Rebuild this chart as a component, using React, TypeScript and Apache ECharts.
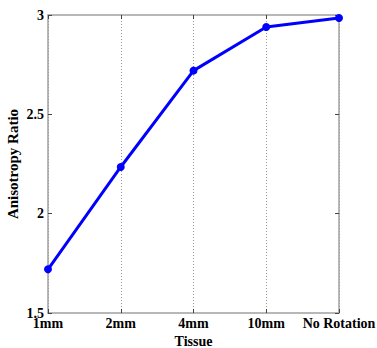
import React, { useEffect, useRef } from "react";
import * as echarts from "echarts";

const categories = ["1mm", "2mm", "4mm", "10mm", "No Rotation"];
const ratioValues = [1.72, 2.235, 2.72, 2.94, 2.985];
const yTicks = [1.5, 2, 2.5, 3];

const FONT = "Liberation Serif";
const AXIS_COLOR = "#a0a0a0";

export default function App() {
  const ref = useRef<HTMLDivElement>(null);
  useEffect(() => {
    if (!ref.current) return;
    const chart = echarts.init(ref.current, null, { renderer: "svg" });
    chart.setOption({
      animation: false,
      backgroundColor: "#fff",
      grid: { left: 48, top: 15, width: 291, height: 298, containLabel: false, outerBoundsMode: "none" },
      xAxis: [
        {
          type: "category",
          data: categories,
          boundaryGap: false,
          name: "Tissue",
          nameLocation: "middle",
          nameGap: 18,
          nameTextStyle: { fontFamily: FONT, fontWeight: "bold", fontSize: 14, color: "#000" },
          axisLine: { lineStyle: { color: AXIS_COLOR, width: 1.5 } },
          axisTick: { inside: true, length: 4, interval: 0, lineStyle: { color: "#444" } },
          axisLabel: {
            interval: 0,
            hideOverlap: false,
            fontFamily: FONT,
            fontWeight: "bold",
            fontSize: 14,
            color: "#000",
            margin: 3,
          },
          splitLine: { show: true, interval: 0, lineStyle: { color: "#999", type: [1, 2], width: 1 } },
        },
        {
          type: "category",
          data: categories,
          boundaryGap: false,
          position: "top",
          axisLine: { lineStyle: { color: AXIS_COLOR, width: 1.5 } },
          axisTick: { inside: true, length: 4, interval: 0, lineStyle: { color: "#444" } },
          axisLabel: { show: false },
          splitLine: { show: false },
        },
      ],
      yAxis: [
        {
          type: "value",
          min: 1.5,
          max: 3,
          interval: 0.5,
          name: "Anisotropy Ratio",
          nameLocation: "middle",
          nameGap: 28,
          nameMoveOverlap: false,
          nameTextStyle: { fontFamily: FONT, fontWeight: "bold", fontSize: 15, color: "#000" },
          axisLine: { show: true, lineStyle: { color: AXIS_COLOR, width: 1.5 } },
          axisTick: { show: true, inside: true, length: 4, lineStyle: { color: "#444" } },
          axisLabel: {
            fontFamily: FONT,
            fontWeight: "bold",
            fontSize: 14,
            color: "#000",
            margin: 4,
            formatter: (v: number) => (yTicks.includes(v) ? String(v) : ""),
          },
          splitLine: { show: false },
        },
        {
          type: "value",
          min: 1.5,
          max: 3,
          interval: 0.5,
          position: "right",
          axisLine: { show: true, lineStyle: { color: AXIS_COLOR, width: 1.5 } },
          axisTick: { show: true, inside: true, length: 4, lineStyle: { color: "#444" } },
          axisLabel: { show: false },
          splitLine: { show: false },
        },
      ],
      series: [
        {
          type: "line",
          data: ratioValues,
          xAxisIndex: 0,
          yAxisIndex: 0,
          symbol: "circle",
          symbolSize: 8,
          lineStyle: { color: "#0000ff", width: 3 },
          itemStyle: { color: "#0000ff" },
        },
      ],
    });
    return () => chart.dispose();
  }, []);
  return (
    <div
      ref={ref}
      style={{ position: "fixed", left: 0, top: 0, width: 377, height: 348 }}
    />
  );
}
